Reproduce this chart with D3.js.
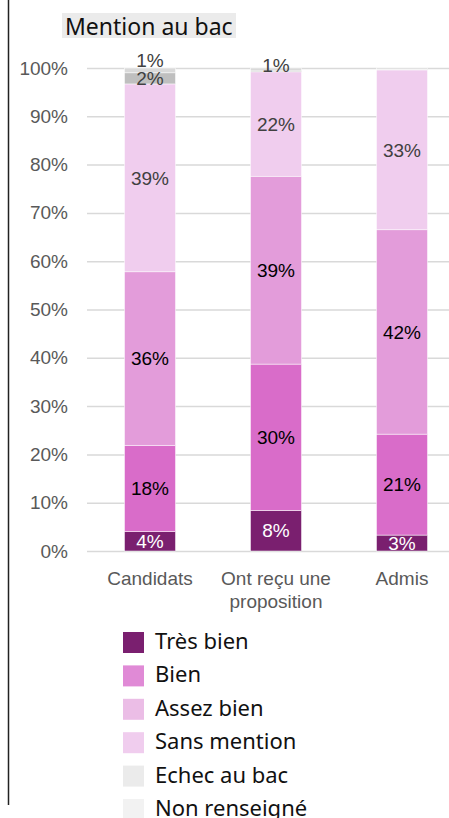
<!DOCTYPE html>
<html>
<head>
<meta charset="utf-8">
<script src="https://cdn.jsdelivr.net/npm/d3@7"></script>
<style>
	body { margin: 0; background: #fff; }
	svg { display: block; }
</style>
</head>
<body>
<script>

	// categories on the x axis (line breaks as in the picture)
	var categories = ['Candidats', 'Ont reçu une\nproposition', 'Admis'];

	// series, bottom to top
	var series = ['Très bien', 'Bien', 'Assez bien', 'Sans mention', 'Echec au bac', 'Non renseigné'];

	// values in % per category
	var tresBien     = [4.0, 8.4, 3.3];
	var bien         = [17.9, 30.3, 20.9];
	var assezBien    = [35.9, 38.9, 42.3];
	var sansMention  = [38.9, 21.6, 33.1];
	var echec        = [2.3, 0.2, 0.1];
	var nonRenseigne = [1.0, 0.6, 0.3];

	var yTicks = [0, 10, 20, 30, 40, 50, 60, 70, 80, 90, 100];

	var WIDTH = 449, HEIGHT = 818;

	// colours (bar fill, legend swatch, label colour)
	var barColors    = ['#7a1f6f', '#d96cc9', '#e39cda', '#f0cdee', '#bfbfbf', '#d9d9d9'];
	var legendColors = ['#7a1f6f', '#e08ad6', '#ebbde6', '#f0cdee', '#ebebeb', '#f2f2f2'];
	var labelColors  = ['#ffffff', '#000000', '#000000', '#404040', '#404040', '#404040'];

	var values = [tresBien, bien, assezBien, sansMention, echec, nonRenseigne];

	// build rows for d3.stack
	var rows = categories.map(function(c, i) {
		var r = { cat: c };
		series.forEach(function(s, j) { r[s] = values[j][i]; });
		return r;
	});

	var stacked = d3.stack().keys(series)(rows);

	var svg = d3.select('body').append('svg')
		.attr('width', WIDTH)
		.attr('height', HEIGHT);

	var x = d3.scaleBand()
		.domain(categories)
		.range([87, 465])
		.paddingInner(0.595)
		.paddingOuter(0.2975);

	var y = d3.scaleLinear()
		.domain([0, 100])
		.range([551, 68]);

	// left frame line
	svg.append('line')
		.attr('x1', 8.5).attr('x2', 8.5)
		.attr('y1', 0).attr('y2', 805)
		.attr('stroke', '#222').attr('stroke-width', 1.5);

	// title
	svg.append('rect')
		.attr('x', 62).attr('y', 13)
		.attr('width', 174).attr('height', 25)
		.attr('fill', '#ebebeb');
	svg.append('text')
		.attr('x', 65).attr('y', 35)
		.attr('font-family', 'Noto Sans')
		.style('font-size', '23px')
		.attr('fill', '#111')
		.text('Mention au bac');

	// y grid + tick labels
	var yAxis = svg.append('g')
		.attr('transform', 'translate(87,0)')
		.call(d3.axisLeft(y).tickValues(yTicks).tickSize(-(WIDTH - 87)).tickPadding(19)
			.tickFormat(function(d) { return d + '%'; }));
	yAxis.select('.domain').remove();
	yAxis.selectAll('line').attr('stroke', '#d9d9d9').attr('stroke-width', 1.5);
	yAxis.selectAll('text')
		.attr('font-family', 'Liberation Sans, Arial')
		.style('font-size', '19px')
		.attr('fill', '#595959');

	// bars
	var layers = svg.selectAll('.layer')
		.data(stacked)
		.enter().append('g')
		.attr('class', 'layer')
		.attr('fill', function(d, i) { return barColors[i]; });

	layers.selectAll('rect')
		.data(function(d) { return d; })
		.enter().append('rect')
		.attr('x', function(d) { return x(d.data.cat); })
		.attr('width', x.bandwidth())
		.attr('y', function(d) { return y(d[1]); })
		.attr('height', function(d) { return y(d[0]) - y(d[1]); })
		.attr('stroke', '#fff')
		.attr('stroke-width', 0.5);

	// data labels, nudged up when they would collide
	categories.forEach(function(c, i) {
		var lastY = 9999;
		stacked.forEach(function(layer, j) {
			var d = layer[i];
			var v = d[1] - d[0];
			if (v < 0.5) return;
			var cy = (y(d[0]) + y(d[1])) / 2;
			if (lastY - cy < 17) cy = lastY - 18;
			else if (v < 1) cy -= 4;
			lastY = cy;
			svg.append('text')
				.attr('x', x(c) + x.bandwidth() / 2)
				.attr('y', cy)
				.attr('dy', '0.35em')
				.attr('text-anchor', 'middle')
				.attr('font-family', 'Liberation Sans, Arial')
				.style('font-size', '19px')
				.attr('fill', labelColors[j])
				.text(Math.round(v) + '%');
		});
	});

	// x labels
	categories.forEach(function(c) {
		var t = svg.append('text')
			.attr('x', x(c) + x.bandwidth() / 2)
			.attr('y', 585)
			.attr('text-anchor', 'middle')
			.attr('font-family', 'Liberation Sans, Arial')
			.style('font-size', '19px')
			.attr('fill', '#595959');
		c.split('\n').forEach(function(line, k) {
			t.append('tspan')
				.attr('x', x(c) + x.bandwidth() / 2)
				.attr('dy', k ? 23 : 0)
				.text(line);
		});
	});

	// legend
	var legend = svg.selectAll('.legend')
		.data(series)
		.enter().append('g')
		.attr('class', 'legend')
		.attr('transform', function(d, i) { return 'translate(123,' + (632 + i * 33.4) + ')'; });

	legend.append('rect')
		.attr('width', 21).attr('height', 21)
		.attr('fill', function(d, i) { return legendColors[i]; });

	legend.append('text')
		.attr('x', 32).attr('y', 17)
		.attr('font-family', 'Noto Sans')
		.style('font-size', '22px')
		.attr('fill', '#111')
		.text(function(d) { return d; });

</script>
</body>
</html>
